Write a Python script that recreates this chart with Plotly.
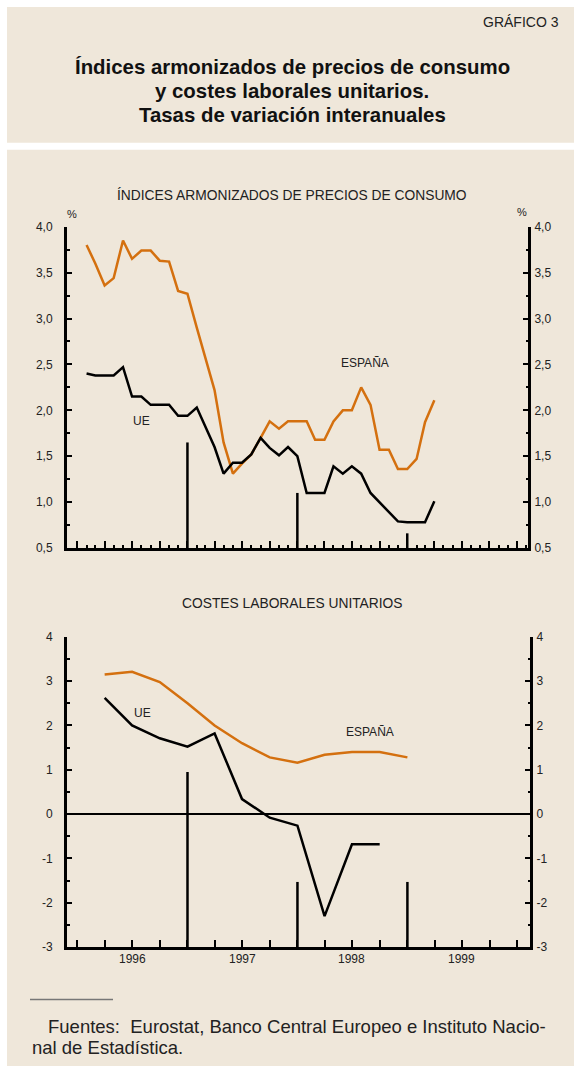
import pandas as pd
import plotly.graph_objects as go

# --- data ---------------------------------------------------------------
# IAPC, monthly (Jan 1996 - Mar 1999), plotted at month end
MESES = pd.date_range("1996-02-01", periods=39, freq="MS")
IAPC_ESPANA = [3.80, 3.60, 3.36, 3.44, 3.85, 3.65, 3.74, 3.74, 3.63, 3.62, 3.30, 3.27,
               2.90, 2.57, 2.22, 1.65, 1.31, 1.42, 1.52, 1.70, 1.88, 1.80, 1.88, 1.88,
               1.88, 1.68, 1.68, 1.88, 2.00, 2.00, 2.25, 2.06, 1.57, 1.57, 1.36, 1.36,
               1.47, 1.87, 2.11]
IAPC_UE = [2.40, 2.38, 2.38, 2.38, 2.47, 2.15, 2.15, 2.06, 2.06, 2.06, 1.94, 1.94,
           2.03, 1.83, 1.60, 1.31, 1.43, 1.43, 1.52, 1.70, 1.59, 1.51, 1.60, 1.50,
           1.10, 1.10, 1.10, 1.39, 1.31, 1.39, 1.31, 1.10, 1.00, 0.90, 0.79, 0.78,
           0.78, 0.78, 1.01]

# CLU, quarterly (I-1996 - IV-1998), plotted at quarter end
TRIMESTRES = pd.date_range("1996-04-01", periods=12, freq="QS")
CLU_ESPANA = [3.15, 3.21, 2.98, 2.50, 2.00, 1.60, 1.28, 1.16, 1.34, 1.40, 1.40, 1.28]
CLU_UE = [2.62, 2.00, 1.71, 1.52, 1.82, 0.34, -0.08, -0.26, -2.30, -0.68, -0.68]

# year separators (date, top of line) for each panel
SEP_FECHAS = ["1997-01-01", "1998-01-01", "1999-01-01"]
SEP_TOP_IAPC = [1.65, 1.10, 0.66]
SEP_TOP_CLU = [0.95, -1.53, -1.53]

YEARS = ["1996", "1997", "1998", "1999"]
YEAR_MID = ["1996-07-01", "1997-07-01", "1998-07-01", "1999-07-01"]
QUARTER_TICKS = pd.date_range("1996-01-01", "2000-01-01", freq="QS")

IAPC_TICKS = [0.5, 1.0, 1.5, 2.0, 2.5, 3.0, 3.5, 4.0]
CLU_TICKS = [-3, -2, -1, 0, 1, 2, 3, 4]
CLU_TICKTEXT = ["-3", "-2", "-1", "0", "1", "2", "3", "4"]

TITLE_LINES = ["Índices armonizados de precios de consumo",
               "y costes laborales unitarios.",
               "Tasas de variación interanuales"]

ORANGE = "#d4700f"
BG = "#efe7da"
FONT = "Liberation Sans, Arial, sans-serif"

W, H = 574, 1073
# the captured page comes out shifted down and slightly squeezed vertically;
# pixel targets below are taken from the reference, so undo that here
Y_OFF, Y_SCALE = 7.5, 0.986


def fx(p):
    return p / W


def fy(p):
    return min(1.0, max(0.0, 1 - (p - Y_OFF) / Y_SCALE / H))


def sep_xy(tops, base):
    xs, ys = [], []
    for d, t in zip(SEP_FECHAS, tops):
        xs += [d, d, None]
        ys += [base, t, None]
    return xs, ys


fig = go.Figure()

# top panel
fig.add_trace(go.Scatter(x=MESES, y=IAPC_ESPANA, mode="lines",
                         line=dict(color=ORANGE, width=2.5), xaxis="x", yaxis="y"))
fig.add_trace(go.Scatter(x=MESES, y=IAPC_UE, mode="lines",
                         line=dict(color="black", width=2.5), xaxis="x", yaxis="y"))
sx, sy = sep_xy(SEP_TOP_IAPC, 0.5)
fig.add_trace(go.Scatter(x=sx, y=sy, mode="lines", line=dict(color="black", width=2.5),
                         xaxis="x", yaxis="y2"))

# bottom panel
fig.add_trace(go.Scatter(x=TRIMESTRES, y=CLU_ESPANA, mode="lines",
                         line=dict(color=ORANGE, width=2.5), xaxis="x2", yaxis="y3"))
fig.add_trace(go.Scatter(x=TRIMESTRES[:len(CLU_UE)], y=CLU_UE, mode="lines",
                         line=dict(color="black", width=2.5), xaxis="x2", yaxis="y3"))
sx, sy = sep_xy(SEP_TOP_CLU, -3)
fig.add_trace(go.Scatter(x=sx, y=sy, mode="lines", line=dict(color="black", width=2.5),
                         xaxis="x2", yaxis="y4"))

tickfont = dict(family=FONT, size=12, color="#222")
yax = dict(showline=True, linewidth=3, linecolor="black", ticks="inside", ticklen=5,
           tickwidth=2, tickcolor="black", showgrid=False, zeroline=False,
           tickfont=tickfont, fixedrange=True, tickmode="array")
xax = dict(type="date", showline=True, linewidth=3, linecolor="black", ticks="inside",
           ticklen=7, tickwidth=2, tickcolor="black", showgrid=False, zeroline=False,
           tickmode="array", tickvals=QUARTER_TICKS, showticklabels=False)
ymin = dict(ticks="inside", ticklen=2.5, tickwidth=2, tickcolor="black")

top_y = [fy(548), fy(227)]
bot_y = [fy(946.7), fy(636.7)]

fig.update_layout(
    width=W, height=H, margin=dict(l=0, r=0, t=0, b=0),
    paper_bgcolor="white", plot_bgcolor="rgba(0,0,0,0)", showlegend=False,
    separators=",.",
    font=dict(family=FONT, color="#222"),
    xaxis=dict(xax, domain=[fx(67), fx(528)], range=["1995-11-28", "2000-02-06"],
               anchor="y",
               minor=dict(dtick="M1", tick0="1996-01-01", ticks="inside", ticklen=3,
                          tickwidth=2, tickcolor="black")),
    yaxis=dict(yax, domain=top_y, range=[0.5, 4.0], tickvals=IAPC_TICKS,
               tickformat=".1f", anchor="x", ticklabelstandoff=9,
               minor=dict(ymin, dtick=0.25, tick0=0.5)),
    yaxis2=dict(yax, domain=top_y, range=[0.5, 4.0], tickvals=IAPC_TICKS,
                tickformat=".1f", overlaying="y", side="right", anchor="x",
                ticklabelstandoff=1, minor=dict(ymin, dtick=0.25, tick0=0.5)),
    xaxis2=dict(xax, domain=[fx(67), fx(530)], range=["1995-11-28", "2000-02-12"],
                anchor="y3"),
    yaxis3=dict(yax, domain=bot_y, range=[-3, 4], tickvals=CLU_TICKS, ticktext=CLU_TICKTEXT,
                anchor="x2", zeroline=True, zerolinecolor="black", zerolinewidth=2.5,
                ticklabelstandoff=9, minor=dict(ymin, dtick=0.5, tick0=0)),
    yaxis4=dict(yax, domain=bot_y, range=[-3, 4], tickvals=CLU_TICKS, ticktext=CLU_TICKTEXT,
                overlaying="y3", side="right", anchor="x2",
                ticklabelstandoff=1, minor=dict(ymin, dtick=0.5, tick0=0)),
)

# background panels and footer rule
fig.add_shape(type="rect", xref="paper", yref="paper", x0=fx(7), x1=1, y0=fy(143), y1=fy(6),
              fillcolor=BG, line_width=0, layer="below")
fig.add_shape(type="rect", xref="paper", yref="paper", x0=fx(7), x1=1, y0=fy(1066), y1=fy(150),
              fillcolor=BG, line_width=0, layer="below")
fig.add_shape(type="line", xref="paper", yref="paper", x0=fx(30), x1=fx(113), y0=fy(999),
              y1=fy(999), line=dict(color="#777", width=1.5))


def note(text, x, y, size=12, xanchor="center", color="#222"):
    fig.add_annotation(text=text, x=x, y=y, xref="paper", yref="paper", showarrow=False,
                       xanchor=xanchor, yanchor="middle",
                       font=dict(family=FONT, size=size, color=color))


note("GRÁFICO 3", fx(561), fy(22), size=14, xanchor="right")
for line, yy in zip(TITLE_LINES, [67.5, 91.5, 115.5]):
    note("<b>%s</b>" % line, fx(292), fy(yy), size=20.4, color="#111")
note("ÍNDICES ARMONIZADOS DE PRECIOS DE CONSUMO", fx(292), fy(195), size=13.8)
note("COSTES LABORALES UNITARIOS", fx(292), fy(603), size=13.8)
note("%", fx(72), fy(214), size=11)
note("%", fx(522), fy(212), size=11)
note("Fuentes:  Eurostat, Banco Central Europeo e Instituto Nacio-", fx(46), fy(1026),
     size=18.5, xanchor="left")
note("nal de Estadística.", fx(30), fy(1047), size=18.5, xanchor="left")

for yr, mid in zip(YEARS, YEAR_MID):
    fig.add_annotation(text=yr, x=mid, y=fy(959), xref="x2", yref="paper", showarrow=False,
                       yanchor="middle", font=dict(family=FONT, size=12, color="#222"))

# series labels
for txt, x, y, xr, yr in [("UE", "1996-08-03", 1.88, "x", "y"),
                          ("ESPAÑA", "1998-08-13", 2.52, "x", "y"),
                          ("UE", "1996-08-03", 2.28, "x2", "y3"),
                          ("ESPAÑA", "1998-08-30", 1.86, "x2", "y3")]:
    fig.add_annotation(text=txt, x=x, y=y, xref=xr, yref=yr, showarrow=False,
                       font=dict(family=FONT, size=12, color="#222"))

# the page should be exactly the figure: no body margin, no scrollbars
css = ("var s=document.createElement('style');"
       "s.innerHTML='html,body{margin:0;padding:0;overflow:hidden;}';"
       "document.head.appendChild(s);")
fig.write_html("out.html", post_script=css,
               config={"displayModeBar": False, "staticPlot": True})
